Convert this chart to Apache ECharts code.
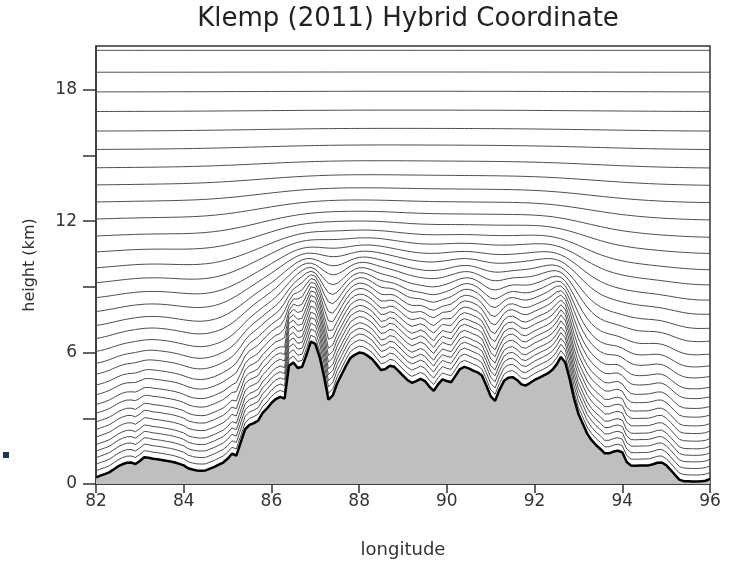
<!DOCTYPE html>
<html>
<head>
<meta charset="utf-8">
<script src="https://cdn.jsdelivr.net/npm/echarts@6/dist/echarts.min.js"></script>
<style>
html, body { margin: 0; padding: 0; background: #fff; }
#hybrid-coordinate-chart { width: 735px; height: 564px; }
</style>
</head>
<body>
<div id="hybrid-coordinate-chart"></div>
<script>
// terrain height (km) along the section, one value every 0.1 deg, 82 -> 96
const lonStart = 82;
const lonStep = 0.1;
const terrain = [
  0.30, 0.38, 0.45, 0.53, 0.66, 0.80, 0.90, 0.97, 0.98, 0.91,
  1.05, 1.22, 1.20, 1.15, 1.13, 1.10, 1.06, 1.03, 0.98, 0.92,
  0.85, 0.72, 0.66, 0.62, 0.61, 0.62, 0.70, 0.78, 0.88, 0.98,
  1.15, 1.38, 1.30, 1.90, 2.50, 2.70, 2.78, 2.90, 3.25, 3.45,
  3.70, 3.88, 3.98, 3.90, 5.40, 5.55, 5.30, 5.35, 5.90, 6.50,
  6.40, 5.80, 4.90, 3.85, 4.05, 4.60, 5.00, 5.40, 5.75, 5.90,
  6.00, 5.97, 5.85, 5.70, 5.45, 5.20, 5.25, 5.40, 5.35, 5.15,
  4.95, 4.75, 4.62, 4.70, 4.80, 4.70, 4.45, 4.25, 4.55, 4.78,
  4.70, 4.65, 4.95, 5.25, 5.35, 5.28, 5.18, 5.10, 4.95, 4.50,
  4.00, 3.80, 4.30, 4.70, 4.85, 4.88, 4.75, 4.55, 4.50, 4.62,
  4.75, 4.85, 4.95, 5.05, 5.20, 5.45, 5.80, 5.55, 4.80, 3.90,
  3.20, 2.75, 2.30, 2.00, 1.78, 1.60, 1.40, 1.40, 1.48, 1.52,
  1.45, 1.00, 0.84, 0.83, 0.84, 0.84, 0.85, 0.90, 0.97, 0.98,
  0.86, 0.65, 0.42, 0.20, 0.13, 0.12, 0.11, 0.11, 0.12, 0.15,
  0.23
];
// height (km) of each coordinate surface where the ground is flat
const levelHeights = [
  0.3, 0.6, 0.9, 1.2, 1.5, 1.85, 2.2, 2.55, 2.95, 3.35,
  3.8, 4.25, 4.75, 5.25, 5.8, 6.4, 7.0, 7.65, 8.3, 9.0,
  9.7, 10.45, 11.2, 12.0, 12.8, 13.6, 14.4, 15.25, 16.1, 17.0,
  17.9, 18.8, 19.8
];
const yTickValues = [0, 3, 6, 9, 12, 15, 18];
const yLabelValues = [0, 6, 12, 18];

// Klemp (2011): z = zeta + A(zeta) * h_s(x, zeta), terrain smoothed more with height
const topHeight = 22;
const decayPower = 4;
function smoothTerrain(zeta) {
  const s = 0.006 * zeta * zeta / lonStep; // gaussian width in grid points
  if (s < 0.3) return terrain.slice();
  const r = Math.ceil(3 * s);
  return terrain.map((_, i) => {
    let sum = 0, wsum = 0;
    for (let k = -r; k <= r; k++) {
      const j = Math.min(terrain.length - 1, Math.max(0, i + k));
      const w = Math.exp(-0.5 * (k / s) * (k / s));
      sum += w * terrain[j];
      wsum += w;
    }
    return sum / wsum;
  });
}

const lons = terrain.map((_, i) => +(lonStart + i * lonStep).toFixed(1));

const levelSeries = levelHeights.map((zeta) => {
  const hs = smoothTerrain(zeta);
  const a = Math.pow(Math.cos(Math.PI / 2 * zeta / topHeight), decayPower);
  return {
    type: 'line',
    silent: true,
    showSymbol: false,
    lineStyle: { color: '#4d4d4d', width: 1 },
    data: lons.map((x, i) => [x, zeta + a * hs[i]])
  };
});

const myChart = echarts.init(document.getElementById('hybrid-coordinate-chart'));

const option = {
  animation: false,
  backgroundColor: '#ffffff',
  textStyle: { fontFamily: 'DejaVu Sans' },
  title: {
    text: 'Klemp (2011) Hybrid Coordinate',
    left: 403,
    top: 1,
    textAlign: 'center',
    textStyle: {
      fontFamily: 'DejaVu Sans',
      fontSize: 26,
      fontWeight: 'normal',
      color: '#222'
    }
  },
  grid: {
    left: 96,
    right: 25,
    top: 46,
    bottom: 79,
    show: true,
    borderColor: '#333',
    borderWidth: 1.5
  },
  xAxis: {
    type: 'value',
    min: 82,
    max: 96,
    interval: 2,
    name: 'longitude',
    nameLocation: 'middle',
    nameGap: 57,
    nameTextStyle: { fontSize: 18, color: '#333' },
    axisLine: { lineStyle: { color: '#333', width: 1.5 } },
    axisTick: { inside: false, length: 9, lineStyle: { color: '#333', width: 1.5 } },
    axisLabel: { margin: 9, fontSize: 17, color: '#333' },
    splitLine: { show: false }
  },
  yAxis: {
    type: 'value',
    min: 0,
    max: 20,
    interval: 3,
    name: 'height (km)',
    nameLocation: 'middle',
    nameGap: 58,
    nameTextStyle: { fontSize: 16, color: '#333' },
    axisLine: { show: true, lineStyle: { color: '#333', width: 1.5 } },
    axisTick: {
      show: true,
      inside: false,
      length: 13,
      customValues: yTickValues,
      lineStyle: { color: '#333', width: 1.5 }
    },
    axisLabel: {
      margin: 19,
      fontSize: 17,
      color: '#333',
      customValues: yLabelValues
    },
    splitLine: { show: false }
  },
  graphic: [
    {
      type: 'rect',
      left: 3,
      top: 452,
      shape: { width: 6, height: 6 },
      style: { fill: '#1b3366' }
    }
  ],
  series: levelSeries.concat([
    {
      name: 'terrain',
      type: 'line',
      silent: true,
      showSymbol: false,
      z: 5,
      lineStyle: { color: '#000', width: 2.5 },
      areaStyle: { color: '#bfbfbf', opacity: 1 },
      data: lons.map((x, i) => [x, terrain[i]])
    }
  ])
};

myChart.setOption(option);
</script>
</body>
</html>
